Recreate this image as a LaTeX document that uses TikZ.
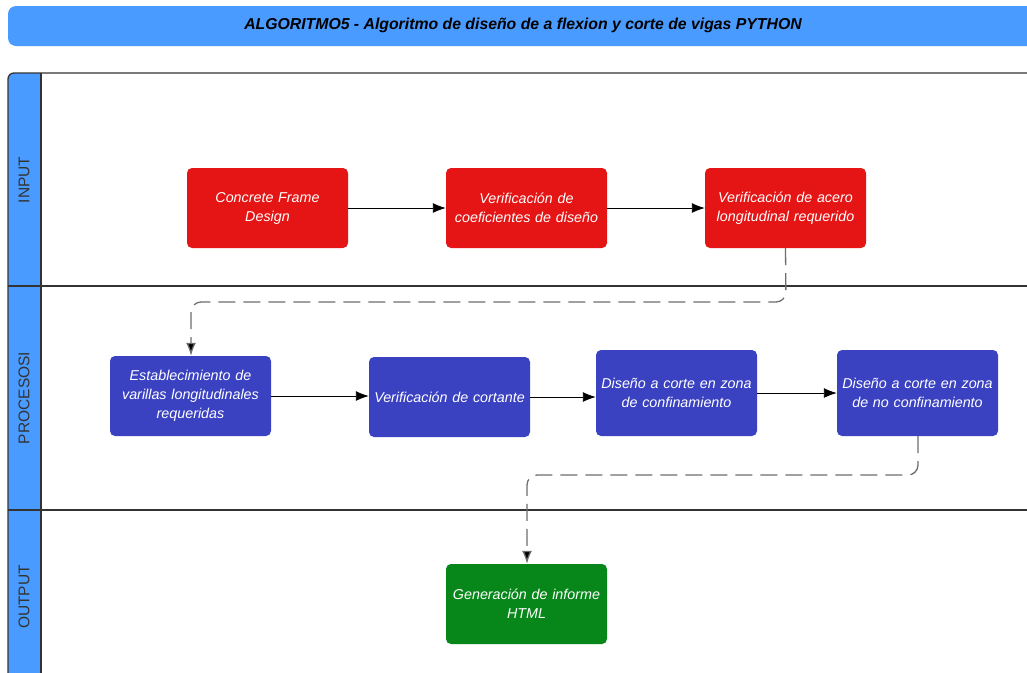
\documentclass[tikz,border=0pt]{standalone}
\usepackage{fontspec}
\setmainfont{Liberation Sans}
\usetikzlibrary{arrows.meta}
\definecolor{hdrblue}{HTML}{4A9BFF}
\definecolor{boxred}{HTML}{E51515}
\definecolor{boxblue}{HTML}{3B42C2}
\definecolor{boxgreen}{HTML}{07871A}
\definecolor{lanegray}{HTML}{333333}
\definecolor{dashgray}{HTML}{6E6E6E}
\tikzset{
  procbox/.style={rounded corners=5pt, minimum width=161pt, minimum height=80pt, text width=158pt, align=center, text=white, font=\fontsize{14.3}{19}\selectfont\itshape, inner sep=0pt},
  redbox/.style={procbox, fill=boxred},
  bluebox/.style={procbox, fill=boxblue},
  greenbox/.style={procbox, fill=boxgreen},
  flow/.style={draw=black, line width=0.9pt, -{Latex[length=13pt,width=10pt]}},
  dflow/.style={draw=dashgray, line width=1.3pt, dash pattern=on 17pt off 8pt, rounded corners=10pt, -{Latex[length=13pt,width=10pt,fill=black]}},
  lanelabel/.style={rotate=90, text=lanegray, font=\fontsize{15.5}{17}\selectfont},
  laneline/.style={draw=lanegray, line width=1.3pt}
}
\begin{document}
\begin{tikzpicture}[x=1pt,y=-1pt]
\useasboundingbox (0,0) rectangle (1027,672);
\fill[white] (0,0) rectangle (1027,672);
% title bar
\fill[hdrblue, rounded corners=8pt] (8,6) rectangle (1040,46);
\node[font=\fontsize{15.8}{18}\selectfont\bfseries\itshape] (title) at (523,25) {ALGORITMO5 - Algoritmo de diseño de a flexion y corte de vigas PYTHON};
% swimlane headers
\fill[hdrblue, rounded corners=6pt] (8,73) rectangle (41,700);
\fill[hdrblue] (30,73) rectangle (41,700);
\draw[laneline, rounded corners=6pt] (1040,73) -- (8,73) -- (8,700);
\draw[laneline] (41,73) -- (41,700);
\draw[laneline] (8,286) -- (1040,286);
\draw[laneline] (8,510) -- (1040,510);
\node[lanelabel] (lin) at (24,180) {INPUT};
\node[lanelabel] (lpr) at (24,398) {PROCESOSI};
\node[lanelabel] (lout) at (24,597) {OUTPUT};
% boxes
\node[redbox] (cfd) at (267.5,208) {Concrete Frame\\Design};
\node[redbox] (coef) at (526.5,208) {Verificación de\\coeficientes de diseño};
\node[redbox] (acero) at (785.5,208) {Verificación de acero\\longitudinal requerido};
\node[bluebox] (est) at (190.5,396) {Establecimiento de\\varillas longitudinales\\requeridas};
\node[bluebox] (cort) at (449.5,397) {Verificación de cortante};
\node[bluebox, minimum height=86pt] (conf) at (676.5,393) {Diseño a corte en zona\\de confinamiento\\[19pt]};
\node[bluebox, minimum height=86pt] (noconf) at (917.5,393) {Diseño a corte en zona\\de no confinamiento\\[19pt]};
\node[greenbox] (html) at (526.5,604) {Generación de informe\\HTML\\[19pt]};
% connectors
\draw[flow] (cfd.east) -- (coef.west);
\draw[flow] (coef.east) -- (acero.west);
\draw[flow] (est.east) -- (cort.west |- est.east);
\draw[flow] (cort.east) -- (conf.west |- cort.east);
\draw[flow] (conf.east) -- (noconf.west);
\coordinate (d1a) at (786,302);
\coordinate (d1b) at (191,302);
\draw[dflow] (acero.south) -- (d1a) -- (d1b) -- (est.north -| d1b);
\coordinate (d2a) at (918,475);
\coordinate (d2b) at (527,475);
\draw[dflow] (noconf.south -| d2a) -- (d2a) -- (d2b) -- (html.north -| d2b);
\end{tikzpicture}
\end{document}
